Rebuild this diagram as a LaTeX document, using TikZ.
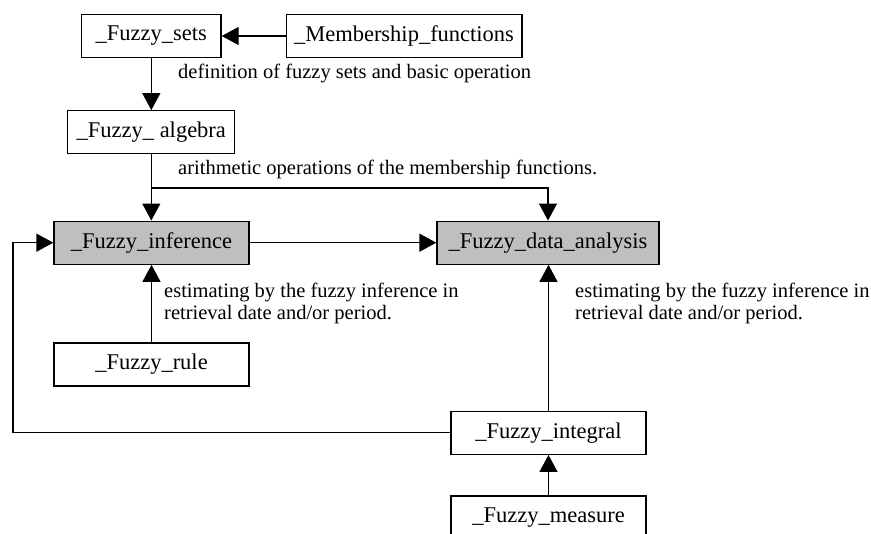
\documentclass[tikz,border=0pt]{standalone}
\usepackage{fontspec}
\setmainfont{Liberation Serif}
\usetikzlibrary{arrows.meta}
\begin{document}
\begin{tikzpicture}[x=1pt,y=-1pt,
  box/.style={draw=black, line width=1.3pt, fill=white, inner sep=0pt,
    minimum height=43pt, font=\fontsize{22.5}{27}\selectfont},
  graybox/.style={box, fill=black!25},
  link/.style={line width=1.3pt, -{Triangle[length=17pt,width=18pt]}},
  note/.style={anchor=base west, inner sep=0pt, align=left,
    font=\fontsize{20.5}{22}\selectfont}]
\useasboundingbox (0,0) rectangle (871,534);
\fill[white] (0,0) rectangle (871,534);

% boxes
\node[box, minimum width=139.5pt] (sets) at (151.3,36) {\_Fuzzy\_sets};
\node[box, minimum width=235.7pt] (memb) at (404,36) {\_Membership\_functions};
\node[box, minimum width=167pt] (alg) at (151.3,132.3) {\_Fuzzy\_ algebra};
\node[graybox, minimum width=195pt] (inf) at (151.5,242.7) {\_Fuzzy\_inference};
\node[graybox, minimum width=222pt] (data) at (548,242.7) {\_Fuzzy\_data\_analysis};
\node[box, minimum width=195pt] (rule) at (151.5,364.5) {\_Fuzzy\_rule};
\node[box, minimum width=195pt] (integ) at (548.5,432.8) {\_Fuzzy\_integral};
\node[box, minimum width=195pt] (meas) at (548.5,517.5) {\_Fuzzy\_measure};

% routing points
\coordinate (br) at (151.3,188);
\coordinate (loop) at (13,432.8);

% connectors
\draw[link] (memb) -- (sets);
\draw[link] (sets) -- (alg);
\draw[link] (alg.south) -- (alg.south |- inf.north);
\draw[link] (br) -| (data.north);
\draw[link] (inf) -- (data);
\draw[link] (rule.north) -- (rule.north |- inf.south);
\draw[link] (integ.north) -- (integ.north |- data.south);
\draw[link] (integ.west) -- (loop) |- (inf.west);
\draw[link] (meas) -- (integ);

% annotations (two-line notes are placed by the baseline of their last line)
\node[note] (n1) at (178,79) {definition of fuzzy sets and basic operation};
\node[note] (n2) at (178,175) {arithmetic operations of the membership functions.};
\node[note] (n3) at (164,320) {estimating by the fuzzy inference in\\retrieval date and/or period.};
\node[note] (n4) at (575,320) {estimating by the fuzzy inference in\\retrieval date and/or period.};
\end{tikzpicture}
\end{document}
